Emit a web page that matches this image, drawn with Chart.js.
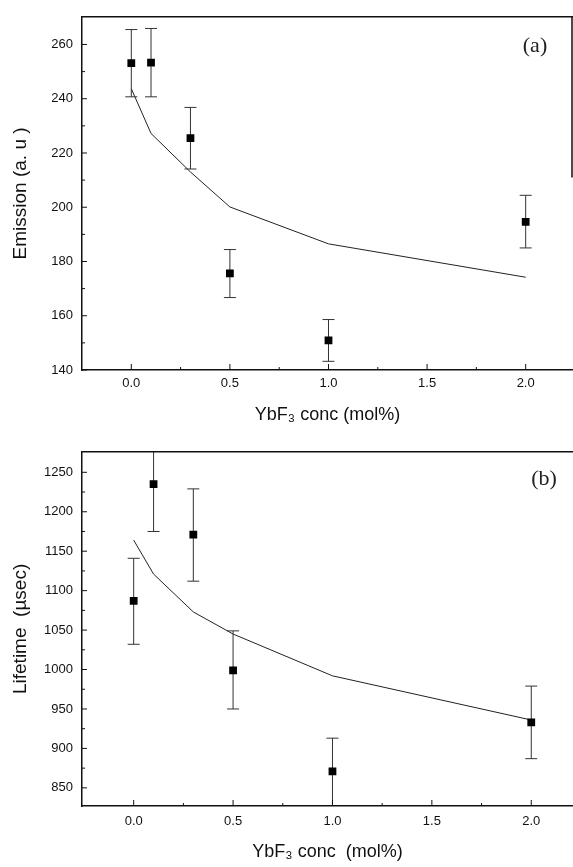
<!DOCTYPE html>
<html>
<head>
<meta charset="utf-8">
<script src="https://cdn.jsdelivr.net/npm/chart.js@4/dist/chart.umd.min.js"></script>
<style>
  body { margin: 0; background: #fff; }
  canvas { display: block; }
</style>
</head>
<body>
<canvas id="chartA" width="573" height="435"></canvas>
<canvas id="chartB" width="573" height="432"></canvas>
<script>
// YbF3 concentration (mol%)
const conc = [0, 0.1, 0.3, 0.5, 1.0, 2.0];
const concTicks = [0, 0.5, 1.0, 1.5, 2.0];

// panel (a) emission
const emission = [253.1, 253.3, 225.5, 175.6, 150.9, 194.6];
const emissionLow = [240.7, 240.7, 214.1, 166.7, 143.2, 185.0];
const emissionHigh = [265.5, 265.9, 236.8, 184.4, 158.6, 204.4];
const emissionFit = [243.7, 227.2, 213.0, 200.1, 186.5, 174.2];
const emissionTicks = [140, 160, 180, 200, 220, 240, 260];

// panel (b) lifetime
const lifetime = [1087, 1235, 1171, 999, 871, 933];
const lifetimeLow = [1032, 1175, 1112, 950, 820, 887];
const lifetimeHigh = [1141, 1296, 1229, 1049, 913, 979];
const lifetimeFit = [1164, 1121, 1073, 1045, 992, 936];
const lifetimeTicks = [850, 900, 950, 1000, 1050, 1100, 1150, 1200, 1250];

const FONT = '"Liberation Sans", Arial, sans-serif';
const INK = '#111';

// top border, part of right border, inward ticks, panel tag
const framePlugin = {
    id: 'frame',
    afterDraw(chart, args, opts) {
        const { ctx, chartArea: a, scales: { x, y } } = chart;
        ctx.save();
        ctx.strokeStyle = INK;
        ctx.lineWidth = 1.5;
        ctx.beginPath();
        ctx.moveTo(a.left, a.top);
        ctx.lineTo(a.right, a.top);
        if (opts.rightTo != null) {
            ctx.moveTo(a.right - 1, a.top);
            ctx.lineTo(a.right - 1, y.getPixelForValue(opts.rightTo));
        }
        ctx.stroke();

        ctx.lineWidth = 1;
        ctx.beginPath();
        const xt = x.ticks.map(t => t.value);
        xt.forEach((v, i) => {
            const px = x.getPixelForValue(v);
            ctx.moveTo(px, a.bottom);
            ctx.lineTo(px, a.bottom - 6);
            if (i > 0) {
                const pm = x.getPixelForValue((v + xt[i - 1]) / 2);
                ctx.moveTo(pm, a.bottom);
                ctx.lineTo(pm, a.bottom - 3);
            }
        });
        const yt = y.ticks.map(t => t.value);
        yt.forEach((v, i) => {
            const py = y.getPixelForValue(v);
            ctx.moveTo(a.left, py);
            ctx.lineTo(a.left + 5, py);
            if (i > 0) {
                const pm = y.getPixelForValue((v + yt[i - 1]) / 2);
                ctx.moveTo(a.left, pm);
                ctx.lineTo(a.left + 3, pm);
            }
        });
        ctx.stroke();

        ctx.fillStyle = '#222';
        ctx.font = '22px "Liberation Serif", serif';
        ctx.textAlign = 'center';
        ctx.textBaseline = 'middle';
        ctx.fillText(opts.tag, a.right - opts.tagDx, a.top + opts.tagDy);
        ctx.restore();
    }
};

function errorBarData(xs, lo, hi) {
    const out = [];
    xs.forEach((v, i) => {
        out.push({ x: v, y: lo[i] }, { x: v, y: hi[i] }, { x: v, y: null });
    });
    return out;
}

function makeChart(id, cfg) {
    const pts = conc.map((v, i) => ({ x: v, y: cfg.values[i] }));
    const fit = conc.map((v, i) => ({ x: v, y: cfg.fit[i] }));
    return new Chart(document.getElementById(id), {
        type: 'scatter',
        data: {
            datasets: [
                {
                    data: pts,
                    showLine: false,
                    pointStyle: 'rect',
                    pointRadius: 5.5,
                    backgroundColor: '#000',
                    borderColor: '#000',
                    borderWidth: 0
                },
                {
                    data: errorBarData(conc, cfg.low, cfg.high),
                    showLine: true,
                    spanGaps: false,
                    borderColor: '#333',
                    borderWidth: 1,
                    pointStyle: 'line',
                    pointRadius: 6,
                    pointBorderWidth: 1,
                    pointBorderColor: '#333'
                },
                {
                    data: fit,
                    showLine: true,
                    borderColor: '#222',
                    borderWidth: 1,
                    tension: 0,
                    pointRadius: 0
                }
            ]
        },
        options: {
            responsive: false,
            animation: false,
            layout: { autoPadding: false, padding: { top: cfg.padTop, right: 0, left: 0, bottom: 0 } },
            plugins: {
                legend: { display: false },
                tooltip: { enabled: false },
                frame: cfg.frame
            },
            scales: {
                x: {
                    type: 'linear',
                    min: cfg.xMin,
                    max: cfg.xMax,
                    grid: { display: false, drawTicks: false },
                    border: { display: true, color: INK, width: 1.5 },
                    afterBuildTicks: s => { s.ticks = concTicks.map(v => ({ value: v })); },
                    afterFit: s => { s.height = cfg.xHeight; },
                    ticks: {
                        padding: cfg.xTickPad,
                        color: INK,
                        font: { family: FONT, size: 13 },
                        callback: v => v.toFixed(1)
                    },
                    title: {
                        display: true,
                        text: 'YbF\u2083 conc ' + cfg.xGap + '(mol%)',
                        color: INK,
                        font: { family: FONT, size: 18 },
                        padding: { top: 0, bottom: cfg.xTitlePad }
                    }
                },
                y: {
                    min: cfg.yMin,
                    max: cfg.yMax,
                    grid: { display: false, drawTicks: false },
                    border: { display: true, color: INK, width: 1.5 },
                    afterBuildTicks: s => { s.ticks = cfg.ticks.map(v => ({ value: v })); },
                    afterFit: s => { s.width = 82; },
                    ticks: {
                        padding: 9,
                        color: INK,
                        font: { family: FONT, size: 13 },
                        callback: v => String(v)
                    },
                    title: {
                        display: true,
                        text: cfg.yTitle,
                        color: INK,
                        font: { family: FONT, size: 19 },
                        padding: { top: 9, bottom: 0 }
                    }
                }
            }
        },
        plugins: [framePlugin]
    });
}

makeChart('chartA', {
    values: emission, low: emissionLow, high: emissionHigh, fit: emissionFit,
    ticks: emissionTicks, yMin: 140, yMax: 270.2, xMin: -0.25, xMax: 2.24,
    padTop: 8, xHeight: 65, xTickPad: 6, xTitlePad: 9, xGap: '',
    yTitle: 'Emission (a. u )',
    frame: { tag: '(a)', tagDx: 38, tagDy: 29, rightTo: 211 }
});

makeChart('chartB', {
    values: lifetime, low: lifetimeLow, high: lifetimeHigh, fit: lifetimeFit,
    ticks: lifetimeTicks, yMin: 827, yMax: 1276, xMin: -0.26, xMax: 2.21,
    padTop: 10, xHeight: 61, xTickPad: 8, xTitlePad: 4, xGap: ' ',
    yTitle: 'Lifetime  (\u00b5sec)',
    frame: { tag: '(b)', tagDx: 29, tagDy: 27, rightTo: null }
});
</script>
</body>
</html>
